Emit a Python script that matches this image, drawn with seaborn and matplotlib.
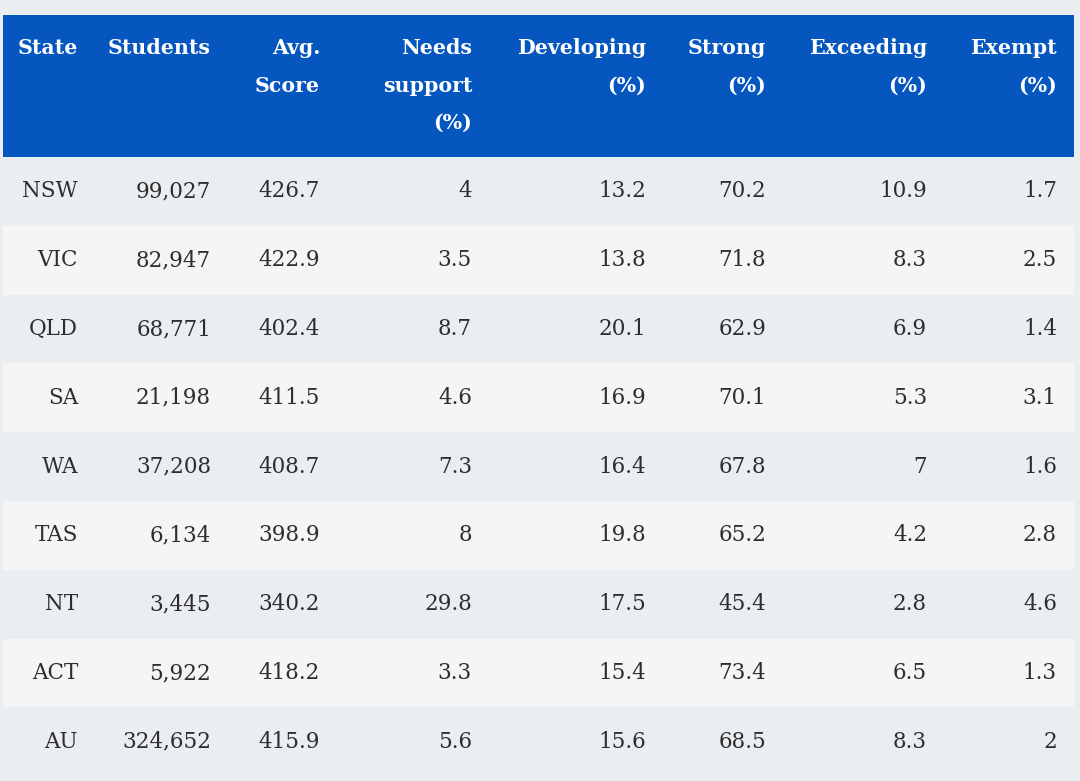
import matplotlib.pyplot as plt
import matplotlib.patches as mpatches
import seaborn as sns

# table data
states = ["NSW", "VIC", "QLD", "SA", "WA", "TAS", "NT", "ACT", "AU"]
students = ["99,027", "82,947", "68,771", "21,198", "37,208", "6,134", "3,445", "5,922", "324,652"]
avg_score = ["426.7", "422.9", "402.4", "411.5", "408.7", "398.9", "340.2", "418.2", "415.9"]
needs_support = ["4", "3.5", "8.7", "4.6", "7.3", "8", "29.8", "3.3", "5.6"]
developing = ["13.2", "13.8", "20.1", "16.9", "16.4", "19.8", "17.5", "15.4", "15.6"]
strong = ["70.2", "71.8", "62.9", "70.1", "67.8", "65.2", "45.4", "73.4", "68.5"]
exceeding = ["10.9", "8.3", "6.9", "5.3", "7", "4.2", "2.8", "6.5", "8.3"]
exempt = ["1.7", "2.5", "1.4", "3.1", "1.6", "2.8", "4.6", "1.3", "2"]

headers = [
    ["State"],
    ["Students"],
    ["Avg.", "Score"],
    ["Needs", "support", "(%)"],
    ["Developing", "(%)"],
    ["Strong", "(%)"],
    ["Exceeding", "(%)"],
    ["Exempt", "(%)"],
]
columns = [states, students, avg_score, needs_support, developing, strong, exceeding, exempt]

# layout (pixel coords)
col_right = [78, 211, 320, 472, 646, 766, 927, 1057]
left, right = 3, 1074
head_top, head_bottom = 15, 157
row_h = 68.8

BG = "#ebeef1"
ALT = "#f5f5f5"
BLUE = "#0557bf"
TEXT = "#2e2e2e"

sns.set_theme(style="white")
plt.rcParams['font.family'] = ['DejaVu Serif']

fig = plt.figure(figsize=(10.8, 7.81), dpi=100)
fig.patch.set_facecolor(BG)
ax = fig.add_axes([0, 0, 1, 1])
ax.set_xlim(0, 1080)
ax.set_ylim(781, 0)
ax.set_facecolor(BG)
ax.axis("off")

# header block
ax.add_patch(mpatches.Rectangle((left, head_top), right - left, head_bottom - head_top,
                                facecolor=BLUE, edgecolor="none"))
for x, lines in zip(col_right, headers):
    for i, line in enumerate(lines):
        ax.text(x, 48 + i * 37.5, line, ha="right", va="center", color="white",
                fontsize=14.8, fontweight="bold")

# body rows
for r in range(len(states)):
    top = head_bottom + r * row_h
    if r % 2 == 1:
        ax.add_patch(mpatches.Rectangle((left, top), right - left, row_h,
                                        facecolor=ALT, edgecolor="none"))
    for x, col in zip(col_right, columns):
        ax.text(x, top + row_h / 2, col[r], ha="right", va="center", color=TEXT,
                fontsize=15.5)

fig.savefig("out.png", dpi=100, facecolor=BG)
